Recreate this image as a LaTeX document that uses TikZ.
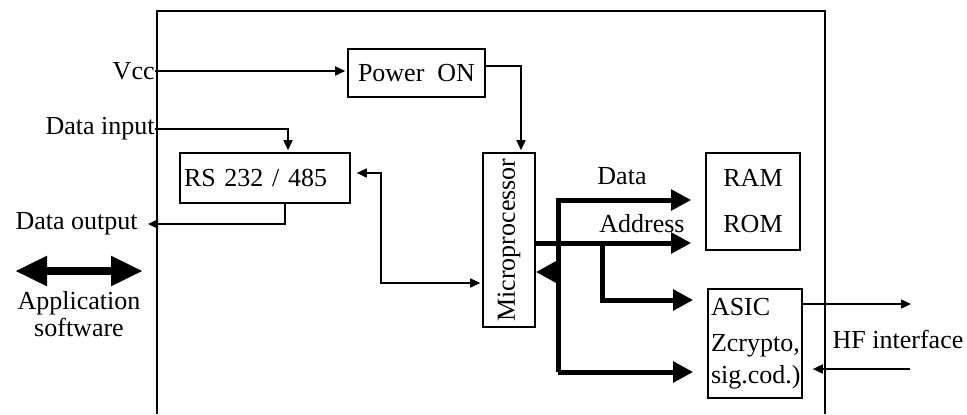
\documentclass[tikz,border=0pt]{standalone}
\usepackage{fontspec}
\setmainfont{Liberation Serif}
\usetikzlibrary{positioning,calc,arrows.meta}

\tikzset{
  box/.style={draw, line width=0.8pt, inner sep=2pt},
  lbl/.style={inner sep=0pt},
  wire/.style={line width=0.8pt},
  arr/.style={wire, -{Triangle[length=5pt,width=4.5pt]}, shorten >=1pt},
  darr/.style={wire, {Triangle[length=5pt,width=4.5pt]}-{Triangle[length=5pt,width=4.5pt]}, shorten >=1pt, shorten <=3pt},
  bus/.style={line width=2.5pt},
  busarr/.style={bus, -{Triangle[length=10pt,width=10pt]}, shorten >=7pt},
}

\begin{document}
\begin{tikzpicture}[x=0.5pt, y=-0.5pt, font=\fontsize{13}{15}\selectfont]
  \useasboundingbox (0,0) rectangle (967,414);

  % Card outline (open at the bottom)
  \draw[line width=1pt] (157,414) -- (157,11) -- (825,11) -- (825,414);

  % Blocks
  \node[box, minimum width=68.5pt, minimum height=24pt] (power) at (416.5,73) {Power\ \ ON};
  \node[box, minimum height=25pt, text width=81pt, align=left] (rs) at (265,178) {RS 232 / 485};
  \node[box, minimum width=26pt, minimum height=87pt] (mcu) at (509,240) {\rotatebox{90}{Microprocessor}};
  \node[box, minimum width=47pt, minimum height=48.5pt, align=center] (mem) at (753,201.5) {RAM\\[8pt]ROM};
  \node[box, minimum height=54.5pt, inner xsep=1.5pt, text width=44pt, align=left] (asic) at (755,343.5) {ASIC\\[3pt]Zcrypto,\\[1pt]sig.cod.)};

  % Outside labels
  \node[lbl, anchor=east] (vcc) at (155,71) {Vcc};
  \node[lbl, anchor=east] (din) at (155,129) {Data input};
  \node[lbl, anchor=east] (dout) at (138,224) {Data output};
  \node[lbl, align=center] (app) at (79,314) {Application\\[-1.5pt]software};
  \node[lbl] (hf) at (898,339) {HF interface};
  \node[lbl] (datalbl) at (622,176) {Data};
  \node[lbl] (addrlbl) at (642,224) {Address};

  % Application software link
  \coordinate (app l) at (15,271);
  \coordinate (app r) at (143,271);
  \draw[line width=4pt, {Triangle[length=16pt,width=14pt]}-{Triangle[length=16pt,width=14pt]}] (app l) -- (app r);

  % Supply and serial lines
  \draw[arr] (vcc.east) -- (vcc.east -| power.west);
  \draw[arr] ($(power.east)+(0,-7)$) -| ($(mcu.north)+(12,0)$);
  \draw[arr] (din.east) -| ($(rs.north)+(23,0)$);
  \draw[arr, shorten >=5pt] ($(rs.south)+(20,0)$) |- (dout.east);
  \draw[darr] ($(rs.east)+(0,-5)$) -- ++(30,0) |- ($(mcu.west)+(0,43)$);

  % Data / address bus
  \coordinate (bus top) at (558,200);
  \coordinate (bus bot) at (558,372);
  \coordinate (mcu in) at ($(mcu.east)+(0,32)$);
  \coordinate (addr) at ($(mcu.east)+(0,3)$);
  \coordinate (br) at ($(addr)+(67,0)$);
  \draw[busarr] (bus bot) -- (bus top) -- (bus top -| mem.west);
  \draw[busarr] (bus bot) -- (bus bot -| asic.west);
  \draw[bus, -{Triangle[length=10pt,width=10pt]}] (mcu in -| bus top) -- (mcu in);
  \draw[busarr] (addr) -- (addr -| mem.west);
  \draw[busarr] (br) |- ($(asic.west)+(0,-43.5)$);

  % HF interface
  \coordinate (hf out) at (913,304);
  \coordinate (hf in) at (910,369);
  \draw[arr] (hf out -| asic.east) -- (hf out);
  \draw[arr, shorten >=5pt] (hf in) -- (hf in -| asic.east);
\end{tikzpicture}
\end{document}
